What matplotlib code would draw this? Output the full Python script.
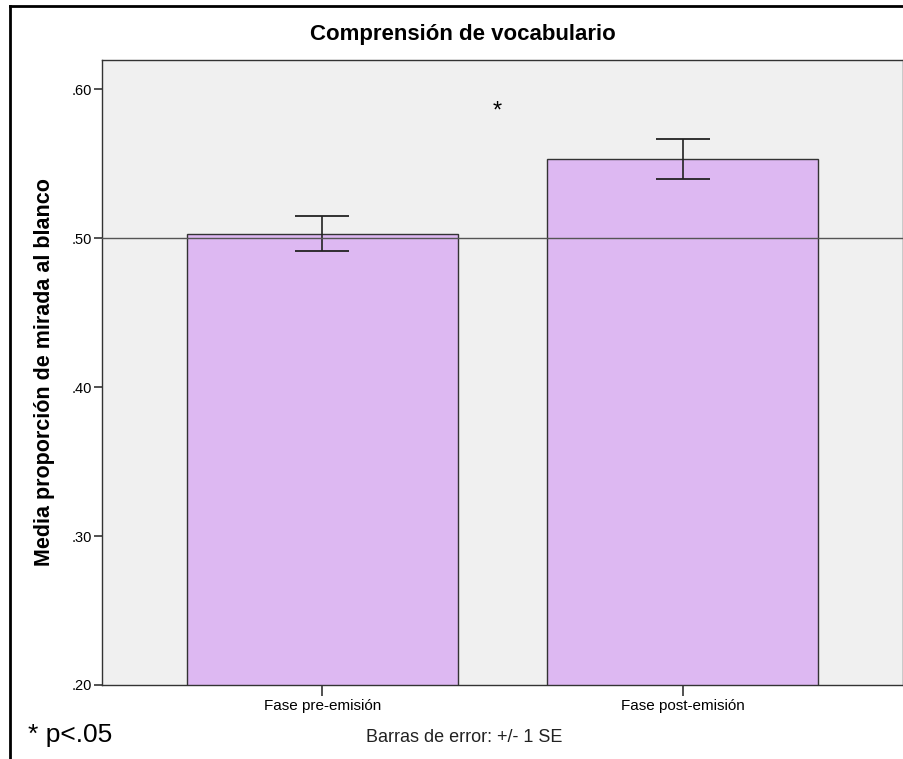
import matplotlib.pyplot as plt
from matplotlib.lines import Line2D

plt.rcParams['font.family'] = ['Liberation Sans', 'DejaVu Sans']

categories = ["Fase pre-emisión", "Fase post-emisión"]
means = [0.503, 0.553]
se = [0.0115, 0.0135]
yticks = [0.20, 0.30, 0.40, 0.50, 0.60]
ytick_labels = [".20", ".30", ".40", ".50", ".60"]
ref_value = 0.50

fig = plt.figure(figsize=(9.04, 7.59), dpi=100)
ax = fig.add_axes([0.1128, 0.0975, 0.886, 0.8235])
ax.set_facecolor("#f0f0f0")

x = range(len(categories))
ax.bar(x, means, width=0.752, color="#ddb8f2", edgecolor="#333333",
       linewidth=1.0, zorder=2)
ax.errorbar(x, means, yerr=se, fmt="none", ecolor="#222222",
            elinewidth=1.2, capsize=19.5, capthick=1.3, zorder=3)
ax.axhline(ref_value, color="#555555", linewidth=1.0, zorder=4)

ax.set_xlim(-0.611, 1.611)
ax.set_ylim(0.20, 0.6195)
ax.set_yticks(yticks)
ax.set_yticklabels(ytick_labels, fontsize=10.5)
ax.set_xticks(list(x))
ax.set_xticklabels(categories, fontsize=11)
ax.tick_params(axis="y", length=6, width=1.2, color="#333333", pad=1)
ax.tick_params(axis="x", length=8, width=1.2, color="#333333", pad=2)
for s in ax.spines.values():
    s.set_color("#333333")
    s.set_linewidth(1.0)

ax.set_ylabel("Media proporción de mirada al blanco", fontsize=15.5,
              fontweight="bold", labelpad=12)
ax.text(0.485, 0.585, "*", fontsize=17, ha="center", va="center")

fig.text(0.512, 0.955, "Comprensión de vocabulario", fontsize=16,
         fontweight="bold", ha="center", va="center")
fig.text(0.031, 0.031, "* p<.05", fontsize=19, ha="left", va="center")
fig.text(0.514, 0.028, "Barras de error: +/- 1 SE", fontsize=13,
         ha="center", va="center", color="#222222")

# outer frame (cropped at right and bottom)
fig.add_artist(Line2D([0.011, 0.011], [0.0, 0.992], transform=fig.transFigure,
                      color="black", linewidth=2))
fig.add_artist(Line2D([0.011, 1.0], [0.992, 0.992], transform=fig.transFigure,
                      color="black", linewidth=2))

fig.savefig("out.png", dpi=100)
